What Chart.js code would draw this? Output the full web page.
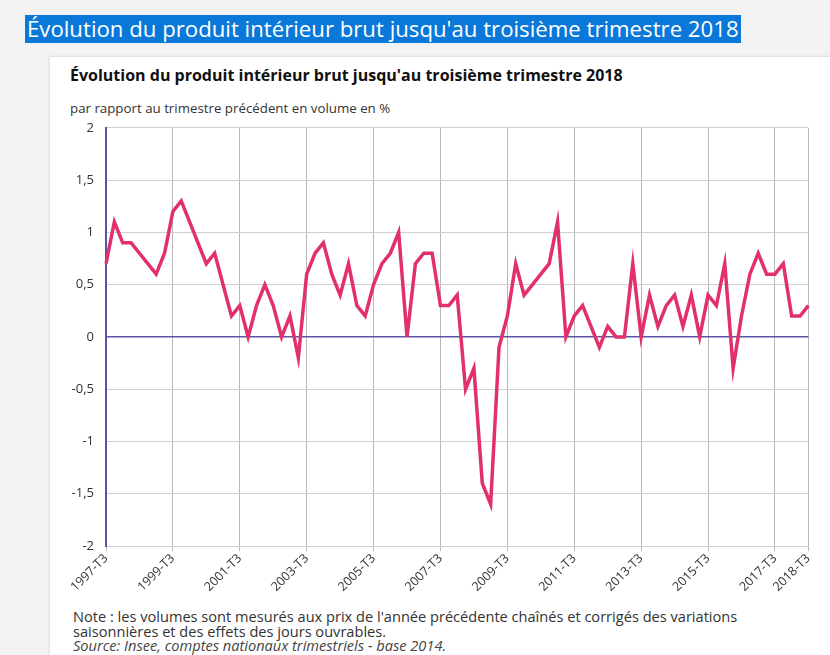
<!DOCTYPE html>
<html lang="fr">
<head>
<meta charset="utf-8">
<script src="https://cdn.jsdelivr.net/npm/chart.js@4.4.1/dist/chart.umd.min.js"></script>
<style>
  html, body { margin: 0; padding: 0; }
  body { width: 830px; height: 655px; background: #f3f3f3; font-family: "Open Sans", sans-serif; position: relative; overflow: hidden; }
  .entete { position: absolute; left: 25px; top: 15px; background: #0a78d8; color: #fff; font-size: 22.2px; line-height: 28px; padding: 0 2px; white-space: nowrap; }
  .carte { position: absolute; left: 50px; top: 57px; width: 790px; height: 620px; background: #fff; box-shadow: 0 0 3px rgba(0,0,0,0.18); }
  .titre { position: absolute; left: 70px; top: 64px; font-size: 16px; font-weight: bold; color: #111; white-space: nowrap; }
  .unite { position: absolute; left: 70px; top: 99px; font-size: 13.3px; color: #333; white-space: nowrap; }
  .zone { position: absolute; left: 60px; top: 108px; width: 759px; height: 488px; }
  .note { position: absolute; left: 73px; top: 609px; font-size: 14.6px; line-height: 14.5px; color: #333; white-space: nowrap; }
  .note i { color: #444; }
</style>
</head>
<body>
<div class="entete">Évolution du produit intérieur brut jusqu'au troisième trimestre 2018</div>
<div class="carte"></div>
<div class="titre">Évolution du produit intérieur brut jusqu'au troisième trimestre 2018</div>
<div class="unite">par rapport au trimestre précédent en volume en %</div>
<div class="zone"><canvas id="graphique"></canvas></div>
<div class="note">Note : les volumes sont mesurés aux prix de l'année précédente chaînés et corrigés des variations<br>saisonnières et des effets des jours ouvrables.<br><i>Source: Insee, comptes nationaux trimestriels - base 2014.</i></div>

<script>
// trimestres de 1997-T3 à 2018-T3
const annees = [1997, 1998, 1999, 2000, 2001, 2002, 2003, 2004, 2005, 2006, 2007, 2008, 2009, 2010, 2011, 2012, 2013, 2014, 2015, 2016, 2017, 2018]
const trimestres = ['T1', 'T2', 'T3', 'T4']

// variation du PIB en % (lecture du graphique)
const variationPib = [
  0.7, 1.1, 0.9, 0.9, 0.8, 0.7, 0.6, 0.8,
  1.2, 1.3, 1.1, 0.9, 0.7, 0.8, 0.5, 0.2,
  0.3, 0.0, 0.3, 0.5, 0.3, 0.0, 0.2, -0.2,
  0.6, 0.8, 0.9, 0.6, 0.4, 0.7, 0.3, 0.2,
  0.5, 0.7, 0.8, 1.0, 0.0, 0.7, 0.8, 0.8,
  0.3, 0.3, 0.4, -0.5, -0.3, -1.4, -1.6, -0.1,
  0.2, 0.7, 0.4, 0.5, 0.6, 0.7, 1.1, 0.0,
  0.2, 0.3, 0.1, -0.1, 0.1, 0.0, 0.0, 0.7,
  0.0, 0.4, 0.1, 0.3, 0.4, 0.1, 0.4, 0.0,
  0.4, 0.3, 0.7, -0.3, 0.2, 0.6, 0.8, 0.6,
  0.6, 0.7, 0.2, 0.2, 0.3
]

const ticksY = [2, 1.5, 1, 0.5, 0, -0.5, -1, -1.5, -2]

const obtenerLabels = () => {
  const labels = []
  annees.forEach((annee) => {
    trimestres.forEach((t) => {
      const label = `${annee}-${t}`
      if (label >= '1997-T3' && label <= '2018-T3') labels.push(label)
    })
  })
  return labels
}

const labels = obtenerLabels()
const dernier = labels.length - 1
const estRepere = (i) => i % 8 === 0 || i === dernier

const config = {
  type: 'line',
  data: {
    labels,
    datasets: [{
      label: 'PIB',
      data: variationPib,
      borderColor: '#e2306a',
      borderWidth: 3.5,
      pointRadius: 0,
      tension: 0,
      borderJoinStyle: 'miter',
      fill: false
    }]
  },
  options: {
    responsive: true,
    maintainAspectRatio: false,
    animation: false,
    plugins: { legend: { display: false }, tooltip: { enabled: false } },
    layout: { padding: 0 },
    scales: {
      x: {
        offset: false,
        grid: {
          color: (ctx) => estRepere(ctx.index) ? '#b8b8b8' : 'rgba(0,0,0,0)',
          tickColor: (ctx) => estRepere(ctx.index) ? '#b8b8b8' : 'rgba(0,0,0,0)',
          tickLength: 5
        },
        border: { display: false },
        ticks: {
          autoSkip: false,
          maxRotation: 45,
          minRotation: 45,
          color: '#333',
          font: { family: 'Open Sans', size: 12.5 },
          padding: 0,
          callback: (val, i) => estRepere(i) ? labels[i] : ''
        },
        afterFit: (scale) => { scale.height = 50 }
      },
      y: {
        min: -2,
        max: 2,
        afterBuildTicks: (scale) => { scale.ticks = ticksY.map((v) => ({ value: v })) },
        grid: {
          color: (ctx) => ctx.tick && ctx.tick.value === 0 ? '#5a55a8' : '#d0d0d0',
          lineWidth: (ctx) => ctx.tick && ctx.tick.value === 0 ? 1.5 : 1,
          drawTicks: false
        },
        border: { color: '#5a55a8', width: 2 },
        ticks: {
          color: '#333',
          font: { family: 'Open Sans', size: 13 },
          padding: 12,
          callback: (v) => String(v).replace('.', ',')
        },
        afterFit: (scale) => { scale.width = 46 }
      }
    }
  }
}

const graphique = new Chart(document.getElementById('graphique'), config)
</script>
</body>
</html>
